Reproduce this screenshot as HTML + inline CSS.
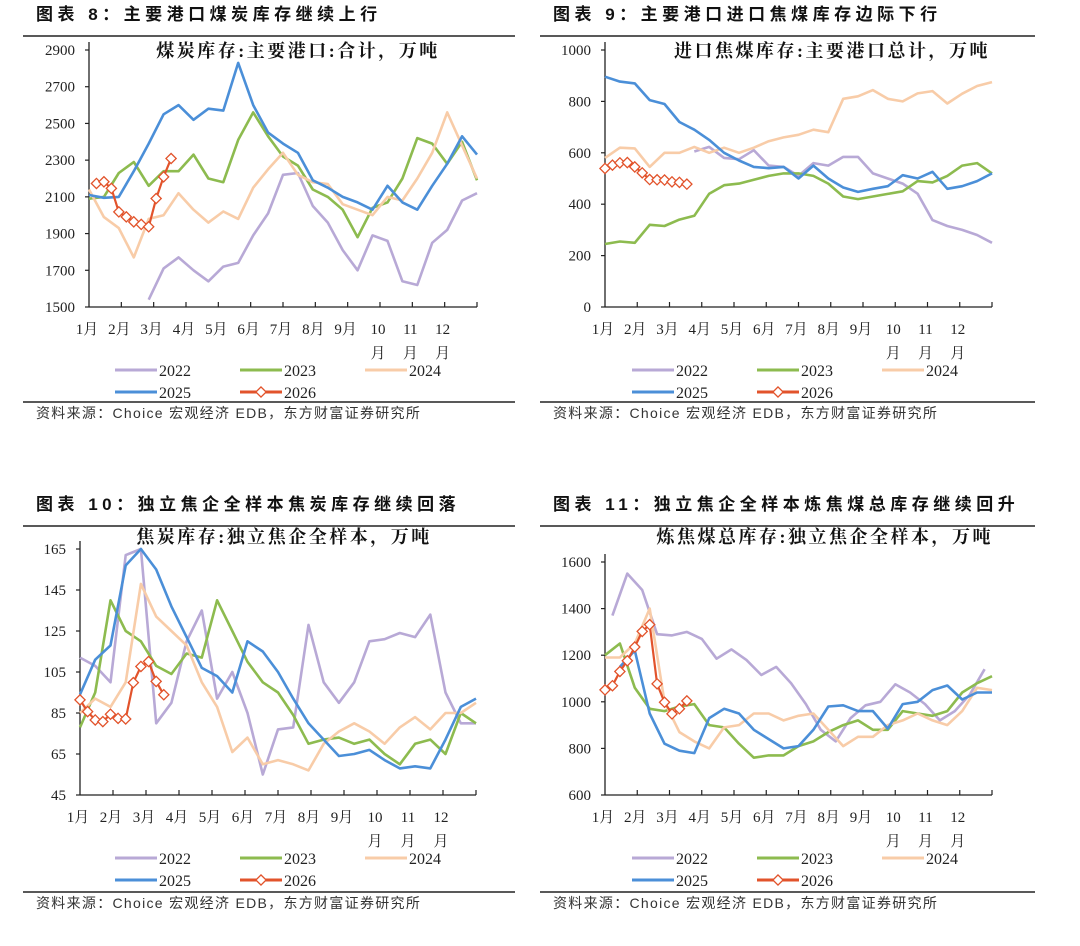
<!DOCTYPE html>
<html><head><meta charset="utf-8">
<style>
html,body{margin:0;padding:0;background:#fff;}
svg{display:block;}
</style></head>
<body>
<svg id="root" width="1080" height="946" viewBox="0 0 1080 946" xmlns="http://www.w3.org/2000/svg">
</svg>
<script>
// ---------- Chart 8 data (coal inventory, main ports) ----------
const c1_2022 = [1540,1710,1770,1700,1640,1720,1740,1890,2010,2220,2230,2050,1960,1810,1700,1890,1860,1640,1620,1850,1920,2080,2120];
const c1_2023 = [2090,2100,2230,2290,2160,2240,2240,2330,2200,2180,2410,2560,2430,2320,2270,2140,2100,2030,1880,2040,2070,2200,2420,2390,2280,2400,2190];
const c1_2024 = [2140,1990,1930,1770,1980,2000,2120,2030,1960,2020,1980,2150,2250,2340,2220,2180,2170,2060,2030,2000,2100,2080,2200,2340,2560,2380,2200];
const c1_2025 = [2110,2095,2100,2240,2390,2550,2600,2520,2580,2570,2830,2600,2450,2390,2340,2190,2150,2100,2070,2030,2160,2070,2030,2160,2280,2430,2330];
const c1_2026 = [2173,2182,2146,2018,1991,1964,1950,1937,2091,2209,2309];
const c1_ticks = [1500,1700,1900,2100,2300,2500,2700,2900];
// ---------- Chart 9 data (imported coking coal, ports) ----------
const c2_2022 = [605,623,580,575,610,550,545,510,560,550,584,584,520,500,480,441,338,315,300,280,250];
const c2_2023 = [245,255,250,320,315,340,355,441,474,480,495,510,520,520,510,480,430,420,430,440,450,490,485,510,550,560,520];
const c2_2024 = [580,620,617,545,600,600,623,600,620,600,620,645,660,670,690,680,810,820,844,810,800,831,840,792,830,860,875];
const c2_2025 = [896,877,870,805,790,720,690,650,600,570,545,540,545,500,550,500,465,448,460,470,513,500,526,460,470,490,520];
const c2_2026 = [539,552,561,562,545,522,496,495,494,487,485,478];
const c2_ticks = [0,200,400,600,800,1000];
// ---------- Chart 10 data (coke inventory, independent coking) ----------
const c3_2022 = [112,108,100,162,165,80,90,120,135,92,105,85,55,77,78,128,100,90,100,120,121,124,122,133,95,80,80];
const c3_2023 = [78,95,140,125,120,108,104,114,112,140,125,110,100,95,84,70,72,73,70,72,65,60,70,72,65,85,80];
const c3_2024 = [85,92,88,100,148,132,125,118,100,88,66,73,60,62,60,57,70,76,80,76,70,78,83,77,85,85,90];
const c3_2025 = [94,111,118,157,165,155,137,122,107,103,95,120,115,105,92,80,72,64,65,67,62,58,59,58,72,88,92];
const c3_2026 = [91.4,85.7,81.6,80.8,84.4,82.4,82.1,99.8,107.7,110.1,100.4,93.9];
const c3_ticks = [45,65,85,105,125,145,165];
// ---------- Chart 11 data (coking coal total inventory) ----------
const c4_2022 = [1370,1550,1480,1290,1285,1300,1270,1185,1225,1180,1115,1150,1080,990,880,830,930,985,1000,1075,1040,990,920,960,1030,1140];
const c4_2023 = [1200,1250,1060,970,960,980,990,900,890,820,760,770,770,810,830,870,900,920,880,880,960,950,940,960,1040,1080,1110];
const c4_2024 = [1190,1190,1250,1400,1000,870,830,800,890,900,950,950,920,940,950,880,810,850,850,900,920,950,920,900,960,1060,1050];
const c4_2025 = [1150,1220,950,820,790,780,930,970,950,880,840,800,810,880,980,985,960,960,885,990,1000,1050,1070,1010,1040,1040];
const c4_2026 = [1051,1069,1130,1176,1235,1302,1331,1077,998,948,970,1004];
const c4_ticks = [600,800,1000,1200,1400,1600];

const months = ["1月","2月","3月","4月","5月","6月","7月","8月","9月","10","11","12"];
const legendYears = ["2022","2023","2024","2025","2026"];

const COL = {"2022":"#b8a9d6","2023":"#8dbb4f","2024":"#f8cca8","2025":"#4b8fd8","2026":"#e2532b"};
const NS = "http://www.w3.org/2000/svg";
const root = document.getElementById('root');

function el(tag, attrs, parent){
  const e = document.createElementNS(NS, tag);
  for (const k in attrs) e.setAttribute(k, attrs[k]);
  (parent||root).appendChild(e);
  return e;
}

function drawChart(cfg){
  const g = el('g', {});
  
  
  const {x0,x1,yTop,yBot,min,max} = cfg;
  const xs = w => x0 + w/52*(x1-x0);
  const ys = v => yBot - (v-min)/(max-min)*(yBot-yTop);

  // header
  const t = el('text',{x:cfg.hx,y:cfg.hy,'font-size':17,'font-weight':'bold','letter-spacing':4.5,'font-family':'"Liberation Sans","Noto Sans CJK SC",sans-serif',fill:'#111'},g);
  t.textContent = cfg.header;
  
  
  const hl = el('line',{x1:cfg.lx0,x2:cfg.lx1,y1:cfg.hy+16,y2:cfg.hy+16,stroke:'#222','stroke-width':1.5},g);
  
  

  // inner title
  const it = el('text',{x:cfg.tx,y:cfg.ty,'font-size':18,'font-weight':'bold','letter-spacing':2.5,'text-anchor':cfg.tanchor,'font-family':'"Liberation Serif","Noto Serif CJK SC",serif',fill:'#111'},g);
  it.textContent = cfg.title;
  
  

  // axes
  const ya = el('line',{x1:x0,x2:x0,y1:yTop-8,y2:yBot,stroke:'#222','stroke-width':1.3},g);
  
  
  const xa = el('line',{x1:x0,x2:x1,y1:yBot,y2:yBot,stroke:'#222','stroke-width':1.3},g);
  
  

  cfg.ticks.forEach(v=>{
    const y = ys(v);
    const tk = el('line',{x1:x0-4,x2:x0,y1:y,y2:y,stroke:'#222','stroke-width':1.2},g);
    
    
    const tl = el('text',{x:x0-14,y:y+5,'font-size':15,'text-anchor':'end','font-family':'"Liberation Serif",serif',fill:'#222'},g);
    tl.textContent = v;
    
    
  });
  months.forEach((m,i)=>{
    const x = x0 + i*(x1-x0)/12;
    if (i>0){
      const tk = el('line',{x1:x,x2:x,y1:yBot-5,y2:yBot,stroke:'#222','stroke-width':1.2},g);
      
      
    }
    const tl = el('text',{x:x-2,y:yBot+27,'font-size':15,'text-anchor':'middle','font-family':'"Liberation Serif","Noto Serif CJK SC",serif',fill:'#222'},g);
    tl.textContent = m;
    
    
    if (i>=9){
      const t2 = el('text',{x:x-2,y:yBot+51,'font-size':15,'text-anchor':'middle','font-family':'"Liberation Serif","Noto Serif CJK SC",serif',fill:'#222'},g);
      t2.textContent = '月';
      
      
    }
  });
  const tkEnd = el('line',{x1:x1,x2:x1,y1:yBot-5,y2:yBot,stroke:'#222','stroke-width':1.2},g);
  
  

  // series
  cfg.series.forEach(s=>{
    const pts = s.data.map((v,i)=>[xs(s.start + i*s.step), ys(v)]);
    const p = el('polyline',{points:pts.map(q=>q[0].toFixed(1)+','+q[1].toFixed(1)).join(' '),fill:'none',stroke:COL[s.year],'stroke-width':s.year==='2026'?2.2:2.6,'stroke-linejoin':'round'},g);
    
    
    if (s.year==='2026'){
      pts.forEach(q=>{
        const d = el('rect',{x:q[0]-3.6,y:q[1]-3.6,width:7.2,height:7.2,fill:'#fff',stroke:COL['2026'],'stroke-width':1.3,transform:`rotate(45 ${q[0]} ${q[1]})`},g);
        
        
      });
    }
  });

  // legend
  const L = el('g',{},g);
  
  
  legendYears.forEach((yr,i)=>{
    const col = i%3, row = Math.floor(i/3);
    const lx = cfg.legX + col*125, ly = cfg.legY + row*22;
    const ln = el('line',{x1:lx,x2:lx+42,y1:ly,y2:ly,stroke:COL[yr],'stroke-width':3},L);
    
    
    if (yr==='2026'){
      const d = el('rect',{x:lx+21-3.6,y:ly-3.6,width:7.2,height:7.2,fill:'#fff',stroke:COL[yr],'stroke-width':1.3,transform:`rotate(45 ${lx+21} ${ly})`},L);
      
      
    }
    const tx = el('text',{x:lx+44,y:ly+6,'font-size':16,'font-family':'"Liberation Serif",serif',fill:'#222'},L);
    tx.textContent = yr;
    
    
  });

  // source
  const sl = el('line',{x1:cfg.lx0,x2:cfg.lx1,y1:cfg.srcY-11,y2:cfg.srcY-11,stroke:'#222','stroke-width':1.5},g);
  
  
  const st = el('text',{x:cfg.lx0+13,y:cfg.srcY+5,'font-size':14,'letter-spacing':1.3,'font-family':'"Liberation Sans","Noto Sans CJK SC",sans-serif',fill:'#333'},g);
  st.textContent = '资料来源：Choice 宏观经济 EDB，东方财富证券研究所';
  
  
}

drawChart({name:'chart-8-coal-port-inventory',header:'图表 8：主要港口煤炭库存继续上行',hx:36,hy:20,lx0:23,lx1:515,
  title:'煤炭库存:主要港口:合计，万吨',tx:298,ty:57,tanchor:'middle',
  x0:89,x1:477,yTop:50,yBot:307,min:1500,max:2900,ticks:c1_ticks,legX:115,legY:370,srcY:413,
  series:[{year:'2022',data:c1_2022,start:8,step:2},{year:'2023',data:c1_2023,start:0,step:2},
          {year:'2024',data:c1_2024,start:0,step:2},{year:'2025',data:c1_2025,start:0,step:2},
          {year:'2026',data:c1_2026,start:1,step:1}]});
drawChart({name:'chart-9-imported-coking-coal',header:'图表 9：主要港口进口焦煤库存边际下行',hx:553,hy:20,lx0:540,lx1:1035,
  title:'进口焦煤库存:主要港口总计，万吨',tx:990,ty:57,tanchor:'end',
  x0:605,x1:992,yTop:50,yBot:307,min:0,max:1000,ticks:c2_ticks,legX:632,legY:370,srcY:413,
  series:[{year:'2022',data:c2_2022,start:12,step:2},{year:'2023',data:c2_2023,start:0,step:2},
          {year:'2024',data:c2_2024,start:0,step:2},{year:'2025',data:c2_2025,start:0,step:2},
          {year:'2026',data:c2_2026,start:0,step:1}]});
drawChart({name:'chart-10-coke-inventory',header:'图表 10：独立焦企全样本焦炭库存继续回落',hx:36,hy:510,lx0:23,lx1:515,
  title:'焦炭库存:独立焦企全样本，万吨',tx:284,ty:543,tanchor:'middle',
  x0:80,x1:476,yTop:549,yBot:795,min:45,max:165,ticks:c3_ticks,legX:115,legY:858,srcY:903,
  series:[{year:'2022',data:c3_2022,start:0,step:2},{year:'2023',data:c3_2023,start:0,step:2},
          {year:'2024',data:c3_2024,start:0,step:2},{year:'2025',data:c3_2025,start:0,step:2},
          {year:'2026',data:c3_2026,start:0,step:1}]});
drawChart({name:'chart-11-coking-coal-inventory',header:'图表 11：独立焦企全样本炼焦煤总库存继续回升',hx:553,hy:510,lx0:540,lx1:1035,
  title:'炼焦煤总库存:独立焦企全样本，万吨',tx:993,ty:543,tanchor:'end',
  x0:605,x1:992,yTop:562,yBot:795,min:600,max:1600,ticks:c4_ticks,legX:632,legY:858,srcY:903,
  series:[{year:'2022',data:c4_2022,start:1,step:2},{year:'2023',data:c4_2023,start:0,step:2},
          {year:'2024',data:c4_2024,start:0,step:2},{year:'2025',data:c4_2025,start:2,step:2},
          {year:'2026',data:c4_2026,start:0,step:1}]});
</script>
</body></html>
